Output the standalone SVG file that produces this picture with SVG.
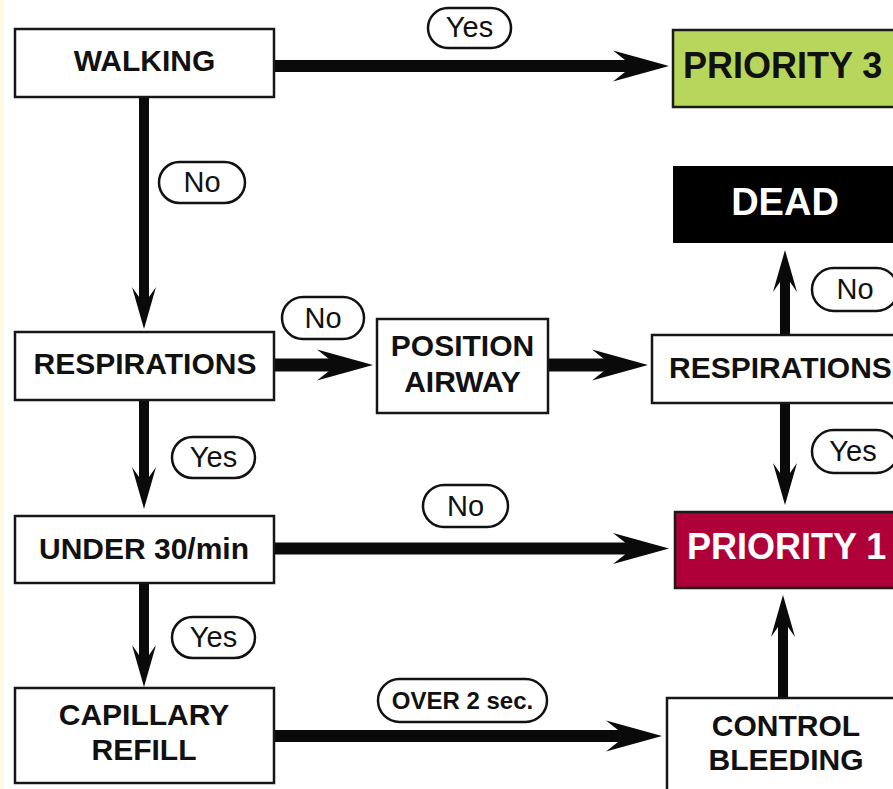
<svg xmlns="http://www.w3.org/2000/svg" xmlns:xlink="http://www.w3.org/1999/xlink" width="893" height="789" viewBox="0 0 893 789">
<style>
.box{fill:#fff;stroke:#161616;stroke-width:2.5}
.t{font-family:"Liberation Sans",Arial,sans-serif;font-weight:bold;font-size:30px;fill:#111;text-anchor:middle}
.big{font-family:"Liberation Sans",Arial,sans-serif;font-weight:bold;font-size:36px}
.pill{fill:#fff;stroke:#111;stroke-width:2.5}
.pt{font-family:"Liberation Sans",Arial,sans-serif;font-size:29px;fill:#111;text-anchor:middle}
.ptb{font-family:"Liberation Sans",Arial,sans-serif;font-weight:bold;font-size:24px;fill:#111;text-anchor:middle}
.sh{stroke:#0a0a0a;stroke-width:12;fill:none}
.sv{stroke:#0a0a0a;stroke-width:10;fill:none}
.hd{fill:#0a0a0a}
</style>
<defs>
<path id="hh" d="M0,0 L-56,-15.5 L-44,-6 L-44,6 L-56,15.5 Z"/>
<path id="vh" d="M0,0 L-12,-42 L-5,-32 L5,-32 L12,-42 Z"/>
</defs>
<rect x="0" y="0" width="893" height="789" fill="#fff"/>
<rect x="0" y="0" width="4" height="789" fill="#fdf8e2"/>

<g id="connectors">
<line class="sh" x1="274" y1="66" x2="626" y2="66"/>
<use xlink:href="#hh" class="hd" transform="translate(669,66)"/>
<line class="sv" x1="144" y1="97" x2="144" y2="299"/>
<use xlink:href="#vh" class="hd" transform="translate(144,329)"/>
<line class="sh" x1="274" y1="365" x2="330" y2="365" style="stroke-width:13"/>
<use xlink:href="#hh" class="hd" transform="translate(373,365)"/>
<line class="sh" x1="548" y1="365" x2="605" y2="365" style="stroke-width:13"/>
<use xlink:href="#hh" class="hd" transform="translate(648,365)"/>
<line class="sv" x1="785" y1="335" x2="785" y2="282"/>
<use xlink:href="#vh" class="hd" transform="translate(785,250) rotate(180)"/>
<line class="sv" x1="785" y1="403" x2="785" y2="475"/>
<use xlink:href="#vh" class="hd" transform="translate(785,505)"/>
<line class="sv" x1="144" y1="400" x2="144" y2="479"/>
<use xlink:href="#vh" class="hd" transform="translate(144,509)"/>
<line class="sh" x1="274" y1="548.5" x2="626" y2="548.5"/>
<use xlink:href="#hh" class="hd" transform="translate(669,548.5)"/>
<line class="sv" x1="144" y1="583" x2="144" y2="657"/>
<use xlink:href="#vh" class="hd" transform="translate(144,687)"/>
<line class="sh" x1="274" y1="736" x2="619" y2="736"/>
<use xlink:href="#hh" class="hd" transform="translate(662,736)"/>
<line class="sv" x1="783" y1="698" x2="783" y2="626"/>
<use xlink:href="#vh" class="hd" transform="translate(783,595) rotate(180)"/>
</g>

<g id="labels">
<rect class="pill" x="428" y="8" width="83" height="40" rx="20"/>
<text class="pt" x="469.5" y="37">Yes</text>
<rect class="pill" x="159" y="162" width="86" height="41" rx="20.5"/>
<text class="pt" x="202" y="192">No</text>
<rect class="pill" x="282" y="297" width="82" height="42" rx="21"/>
<text class="pt" x="323" y="328">No</text>
<rect class="pill" x="812" y="268" width="86" height="43" rx="21.5"/>
<text class="pt" x="855" y="299">No</text>
<rect class="pill" x="812" y="430" width="86" height="43" rx="21.5"/>
<text class="pt" x="853" y="461">Yes</text>
<rect class="pill" x="172" y="437" width="83" height="41" rx="20.5"/>
<text class="pt" x="213.5" y="467">Yes</text>
<rect class="pill" x="423" y="485" width="85" height="42" rx="21"/>
<text class="pt" x="465.5" y="516">No</text>
<rect class="pill" x="172" y="617" width="83" height="41" rx="20.5"/>
<text class="pt" x="213.5" y="647">Yes</text>
<rect class="pill" x="378" y="679" width="169" height="43" rx="21.5"/>
<text class="ptb" x="462.5" y="709">OVER 2 sec.</text>
</g>

<g id="walking">
<rect class="box" x="15" y="29" width="259" height="68"/>
<text class="t" x="144.5" y="71">WALKING</text>
</g>
<g id="priority3">
<rect x="673" y="30" width="230" height="77" fill="#b7d65b" stroke="#1a1a1a" stroke-width="2.5"/>
<text class="big" x="683" y="78" fill="#111">PRIORITY 3</text>
</g>
<g id="dead">
<rect x="673" y="166" width="230" height="77" fill="#000"/>
<text class="big" x="785" y="215" fill="#fff" text-anchor="middle" style="font-size:38px">DEAD</text>
</g>
<g id="respirations1">
<rect class="box" x="15" y="332" width="259" height="68"/>
<text class="t" x="145" y="374">RESPIRATIONS</text>
</g>
<g id="position-airway">
<rect class="box" x="377" y="319" width="171" height="94"/>
<text class="t" x="462.5" y="356">POSITION</text>
<text class="t" x="462.5" y="392">AIRWAY</text>
</g>
<g id="respirations2">
<rect class="box" x="652" y="335" width="250" height="68"/>
<text class="t" x="669" y="378" style="text-anchor:start">RESPIRATIONS</text>
</g>
<g id="under30">
<rect class="box" x="15" y="516" width="259" height="67"/>
<text class="t" x="144" y="559">UNDER 30/min</text>
</g>
<g id="priority1">
<rect x="675" y="512" width="230" height="76" fill="#b0003a" stroke="#1a1a1a" stroke-width="2.5"/>
<text class="big" x="687" y="559" fill="#fff">PRIORITY 1</text>
</g>
<g id="capillary-refill">
<rect class="box" x="15" y="688" width="259" height="95"/>
<text class="t" x="144" y="725">CAPILLARY</text>
<text class="t" x="144" y="760">REFILL</text>
</g>
<g id="control-bleeding">
<rect class="box" x="667" y="698" width="240" height="100"/>
<text class="t" x="786" y="736">CONTROL</text>
<text class="t" x="786" y="770">BLEEDING</text>
</g>
</svg>
